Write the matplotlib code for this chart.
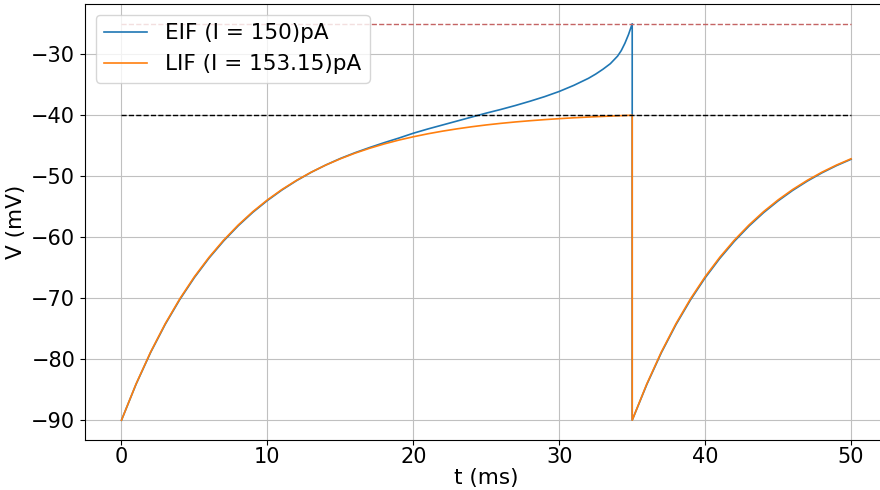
"""
Membrane potential of an exponential integrate-and-fire (EIF) neuron
next to a leaky integrate-and-fire (LIF) neuron driven to fire at the
same moment. Both traces start at the reset potential and spike at t = 35 ms.
"""

import matplotlib

matplotlib.use("Agg")
import matplotlib.pyplot as plt

# EIF trace (mV), sampled densely near the upswing of the spike
t_eif = [
    0, 1, 2, 3, 4, 5, 6, 7, 8, 9, 10, 11, 12, 13, 14, 15, 16, 17, 18, 19,
    20, 21, 22, 23, 24, 25, 26, 27, 28, 29, 30, 31, 32, 32.5, 33, 33.5, 34,
    34.25, 34.5, 34.75, 35, 35, 36, 37, 38, 39, 40, 41, 42, 43, 44, 45,
    46, 47, 48, 49, 50,
]
v_eif = [
    -90.00, -84.10, -78.88, -74.27, -70.20, -66.60, -63.42, -60.61, -58.12,
    -55.92, -53.98, -52.25, -50.72, -49.36, -48.16, -47.09, -46.15, -45.30,
    -44.50, -43.75, -42.95, -42.25, -41.60, -40.95, -40.30, -39.65, -39.05,
    -38.40, -37.70, -36.95, -36.10, -35.10, -33.95, -33.25, -32.45, -31.55,
    -30.30, -29.40, -28.20, -26.75, -25.00, -90.00, -84.15, -78.92, -74.32,
    -70.25, -66.65, -63.48, -60.67, -58.18, -55.98, -54.04, -52.32, -50.80,
    -49.45, -48.26, -47.22,
]

# LIF trace (mV)
t_lif = [
    0, 1, 2, 3, 4, 5, 6, 7, 8, 9, 10, 11, 12, 13, 14, 15, 16, 17, 18, 19,
    20, 21, 22, 23, 24, 25, 26, 27, 28, 29, 30, 31, 32, 33, 34, 35, 35,
    36, 37, 38, 39, 40, 41, 42, 43, 44, 45, 46, 47, 48, 49, 50,
]
v_lif = [
    -90.00, -84.05, -78.80, -74.17, -70.08, -66.47, -63.29, -60.48, -58.00,
    -55.81, -53.88, -52.17, -50.67, -49.34, -48.17, -47.14, -46.22, -45.42,
    -44.71, -44.08, -43.53, -43.04, -42.61, -42.23, -41.89, -41.59, -41.33,
    -41.10, -40.90, -40.72, -40.56, -40.42, -40.30, -40.19, -40.09, -40.00,
    -90.00, -84.05, -78.80, -74.17, -70.08, -66.47, -63.29, -60.48, -58.00,
    -55.81, -53.88, -52.17, -50.67, -49.34, -48.17, -47.14,
]

labels = ["EIF (I = 150)pA", "LIF (I = 153.15)pA"]

T_START, T_END = 0, 50
V_PEAK = -25  # EIF spike cut-off
V_THRESH = -40  # LIF threshold

fig = plt.figure(figsize=(8.8, 4.9), dpi=100)
ax = fig.add_axes([0.0966, 0.102, 0.912, 0.89])

ax.plot(t_eif, v_eif, color="C0", lw=1.2, label=labels[0])
ax.plot(t_lif, v_lif, color="C1", lw=1.2, label=labels[1])
ax.hlines(V_PEAK, T_START, T_END, colors="#c46464", linestyles="--", lw=1.0)
ax.hlines(V_THRESH, T_START, T_END, colors="black", linestyles="--", lw=1.0)

ax.grid(True, color="#c0c0c0", lw=0.8)
ax.set_xlabel("t (ms)", fontsize=15.5, labelpad=1)
ax.set_ylabel("V (mV)", fontsize=15.5)
ax.tick_params(labelsize=15)
ax.tick_params(axis="x", pad=1.5)
ax.legend(loc="upper left", fontsize=15.5)

fig.savefig("out.png", dpi=100)
